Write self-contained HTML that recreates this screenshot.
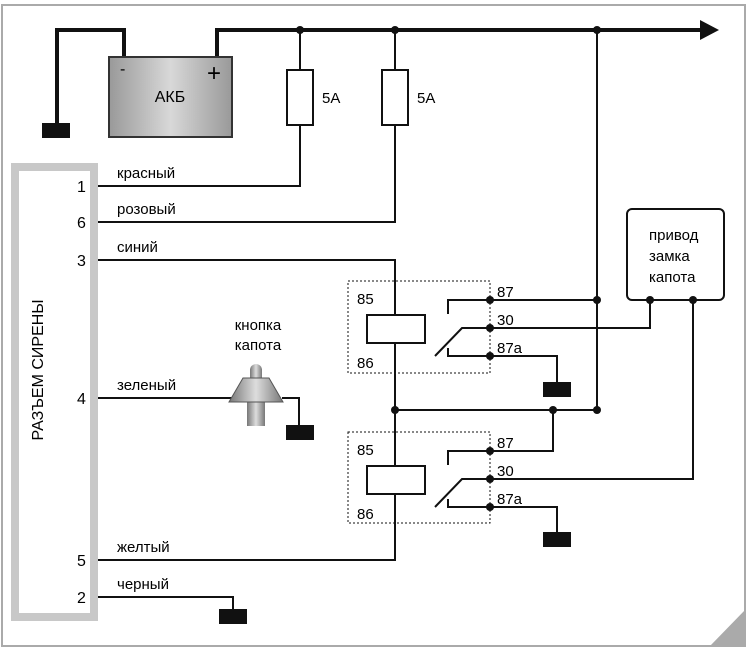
<!DOCTYPE html>
<html><head><meta charset="utf-8"><style>
body{margin:0;background:#fff}
svg{display:block}
text{font-family:"Liberation Sans Narrow","Liberation Sans",sans-serif;fill:#000}
</style></head><body>
<svg width="750" height="651" viewBox="0 0 750 651" font-size="15">
<defs>
<linearGradient id="bat" x1="0" x2="1"><stop offset="0" stop-color="#999"/><stop offset="0.5" stop-color="#d8d8d8"/><stop offset="1" stop-color="#999"/></linearGradient>
<linearGradient id="btn" x1="0" x2="1"><stop offset="0" stop-color="#777"/><stop offset="0.5" stop-color="#ddd"/><stop offset="1" stop-color="#777"/></linearGradient>
</defs>
<rect x="2" y="5" width="743" height="641" fill="#fff" stroke="#aaa" stroke-width="2"/>
<polygon points="745,610 745,646 710,646" fill="#aaa"/>
<rect x="15" y="167" width="79" height="450" fill="none" stroke="#c8c8c8" stroke-width="8"/>
<text transform="translate(43,370) rotate(-90)" text-anchor="middle" style="font-size:16px">РАЗЪЕМ СИРЕНЫ</text>
<g stroke="#111" fill="none">
<polyline points="57,125 57,30 124,30 124,57" stroke-width="4"/>
<polyline points="217,57 217,30 702,30" stroke-width="4"/>
<polyline points="98,186 300,186 300,30" stroke-width="2"/>
<polyline points="98,222 395,222 395,30" stroke-width="2"/>
<polyline points="98,260 395,260 395,560 98,560" stroke-width="2"/>
<line x1="597" y1="30" x2="597" y2="410" stroke-width="2"/>
<line x1="395" y1="410" x2="597" y2="410" stroke-width="2"/>
<polyline points="98,597 233,597 233,610" stroke-width="2"/>
<polyline points="98,398 232,398" stroke-width="2"/>
<polyline points="282,398 299,398 299,426" stroke-width="2"/>
<polyline points="448,314 448,300 597,300" stroke-width="2"/>
<polyline points="435,356 462,328 650,328 650,300" stroke-width="2"/>
<polyline points="448,348 448,356 557,356 557,383" stroke-width="2"/>
<polyline points="448,465 448,451 553,451 553,410" stroke-width="2"/>
<polyline points="435,507 462,479 693,479 693,300" stroke-width="2"/>
<polyline points="448,499 448,507 557,507 557,534" stroke-width="2"/>
<rect x="348" y="281" width="142" height="92" stroke-width="1" stroke-dasharray="2,2"/>
<rect x="348" y="432" width="142" height="91" stroke-width="1" stroke-dasharray="2,2"/>
</g>
<polygon points="700,20 719,30 700,40" fill="#111"/>
<rect x="109" y="57" width="123" height="80" fill="url(#bat)" stroke="#333" stroke-width="2"/>
<text x="120" y="74" style="font-size:16px">-</text>
<text x="207" y="81" style="font-size:24px">+</text>
<text x="170" y="102" text-anchor="middle" style="font-size:16px">АКБ</text>
<rect x="287" y="70" width="26" height="55" fill="#fff" stroke="#111" stroke-width="2"/>
<rect x="382" y="70" width="26" height="55" fill="#fff" stroke="#111" stroke-width="2"/>
<text x="322" y="103">5A</text><text x="417" y="103">5A</text>
<rect x="367" y="315" width="58" height="28" fill="#fff" stroke="#111" stroke-width="2"/>
<rect x="367" y="466" width="58" height="28" fill="#fff" stroke="#111" stroke-width="2"/>
<rect x="627" y="209" width="97" height="91" rx="5" fill="#fff" stroke="#111" stroke-width="2"/>
<text x="649" y="240">привод</text><text x="649" y="261">замка</text><text x="649" y="282">капота</text>
<g fill="#111">
<rect x="42" y="123" width="28" height="15"/>
<rect x="543" y="382" width="28" height="15"/>
<rect x="543" y="532" width="28" height="15"/>
<rect x="219" y="609" width="28" height="15"/>
<rect x="286" y="425" width="28" height="15"/>
<circle cx="300" cy="30" r="4"/><circle cx="395" cy="30" r="4"/><circle cx="597" cy="30" r="4"/>
<circle cx="597" cy="300" r="4"/><circle cx="650" cy="300" r="4"/><circle cx="693" cy="300" r="4"/>
<circle cx="395" cy="410" r="4"/><circle cx="553" cy="410" r="4"/><circle cx="597" cy="410" r="4"/>
<circle cx="490" cy="300" r="4"/><circle cx="490" cy="328" r="4"/><circle cx="490" cy="356" r="4"/>
<circle cx="490" cy="451" r="4"/><circle cx="490" cy="479" r="4"/><circle cx="490" cy="507" r="4"/>
</g>
<rect x="250" y="364" width="12" height="20" rx="6" fill="url(#btn)"/>
<rect x="247" y="400" width="18" height="26" fill="url(#btn)"/>
<polygon points="243,378 269,378 283,402 229,402" fill="url(#btn)" stroke="#555" stroke-width="1"/>
<text x="258" y="330" text-anchor="middle">кнопка</text>
<text x="258" y="350" text-anchor="middle">капота</text>
<text x="357" y="304">85</text><text x="357" y="368">86</text>
<text x="357" y="455">85</text><text x="357" y="519">86</text>
<text x="497" y="297">87</text><text x="497" y="325">30</text><text x="497" y="353">87a</text>
<text x="497" y="448">87</text><text x="497" y="476">30</text><text x="497" y="504">87a</text>
<text x="117" y="178">красный</text><text x="117" y="214">розовый</text><text x="117" y="252">синий</text>
<text x="117" y="390">зеленый</text><text x="117" y="552">желтый</text><text x="117" y="589">черный</text>
<g style="font-size:16px">
<text x="77" y="192">1</text><text x="77" y="228">6</text><text x="77" y="266">3</text>
<text x="77" y="404">4</text><text x="77" y="566">5</text><text x="77" y="603">2</text>
</g>
</svg>
</body></html>
